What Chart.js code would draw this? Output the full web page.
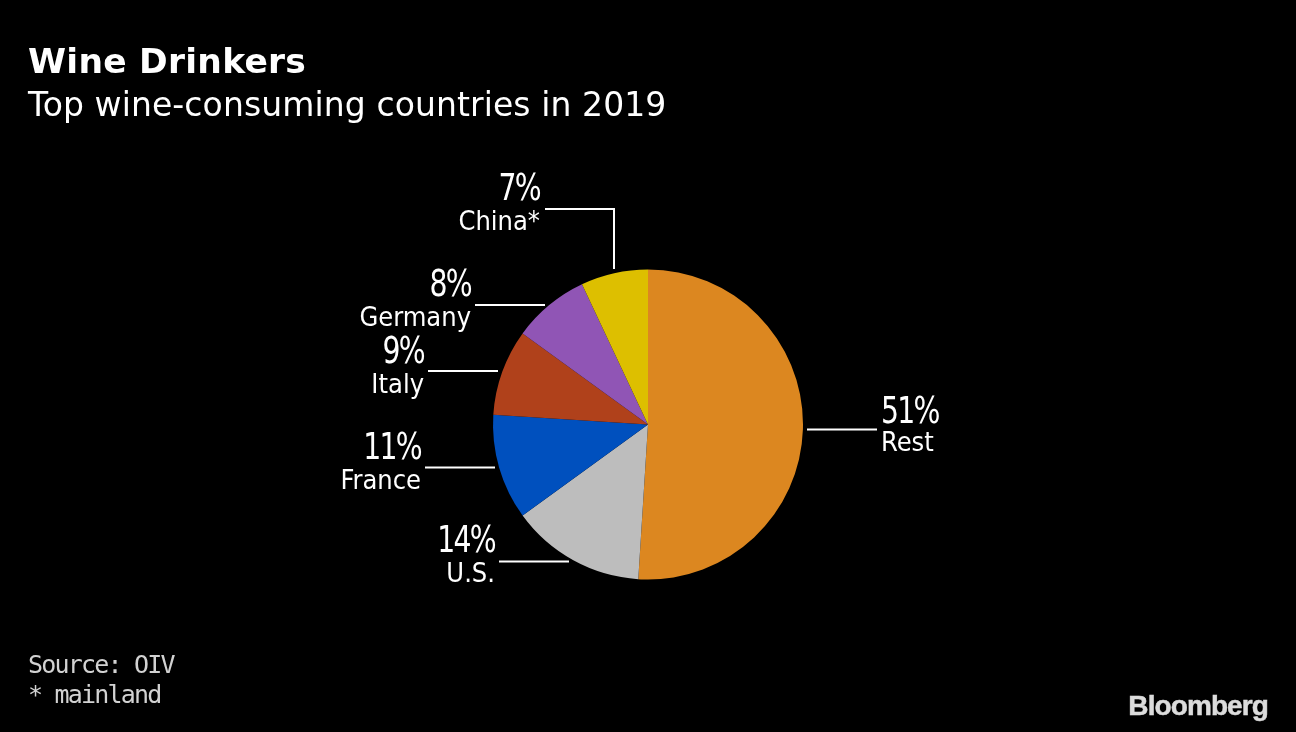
<!DOCTYPE html>
<html>
<head>
<meta charset="utf-8">
<script src="https://cdn.jsdelivr.net/npm/chart.js@4"></script>
<style>
html,body{margin:0;padding:0;background:#000;width:1296px;height:732px;overflow:hidden}
#wrap{position:absolute;left:0;top:0;width:1296px;height:732px}
.t{position:absolute;white-space:nowrap;color:#fff;line-height:1}
#title{left:28px;top:41px;font:bold 34.5px "DejaVu Sans";letter-spacing:.25px}
#sub{left:28px;top:85px;font:33px "DejaVu Sans";letter-spacing:.1px}
#src1,#src2{font:25px "DejaVu Sans Mono";letter-spacing:-1.8px;color:#d2d2d2;left:28px}
#src1{top:650px}
#src2{top:680px}
#logo{right:28px;top:690px;font:bold 28px "Liberation Sans";letter-spacing:-.9px;color:#dcdcdc;-webkit-text-stroke:.5px #dcdcdc}
</style>
</head>
<body>
<div id="wrap"><canvas id="c" width="1296" height="732"></canvas></div>
<div class="t" id="title">Wine Drinkers</div>
<div class="t" id="sub">Top wine-consuming countries in 2019</div>
<div class="t" id="src1">Source: OIV</div>
<div class="t" id="src2">* mainland</div>
<div class="t" id="logo">Bloomberg</div>
<script>
const categories = ["Rest", "U.S.", "France", "Italy", "Germany", "China*"];
const shares = [51, 14, 11, 9, 8, 7];
const sliceColors = ["#DC8720", "#BDBDBD", "#0050BE", "#B0411B", "#9055B5", "#DDBF00"];

// Leader geometry, relative to the pie centre: polyline points, label side and label anchor
const leaders = [
  {pts:[[159,5],[229,5]],               side:"left",  x:233,  pct:-2,   name:26},
  {pts:[[-79,137],[-149,137]],          side:"right", x:-153, pct:127,  name:157},
  {pts:[[-153,43],[-223,43]],           side:"right", x:-227, pct:34,   name:64},
  {pts:[[-150,-53.5],[-220,-53.5]],     side:"right", x:-224, pct:-62,  name:-32},
  {pts:[[-103,-119.5],[-173,-119.5]],   side:"right", x:-177, pct:-129, name:-99},
  {pts:[[-34,-155.5],[-34,-215.5],[-103,-215.5]], side:"right", x:-108, pct:-225,name:-195}
];
const pctScaleX = 0.85;

const labelPlugin = {
  id: "sliceLabels",
  afterDatasetsDraw(chart) {
    const ctx = chart.ctx;
    const arc = chart.getDatasetMeta(0).data[0];
    const cx = arc.x, cy = arc.y;
    ctx.save();
    ctx.strokeStyle = "#fff";
    ctx.lineWidth = 2;
    ctx.fillStyle = "#fff";
    ctx.textBaseline = "alphabetic";
    leaders.forEach((l, i) => {
      ctx.beginPath();
      l.pts.forEach((p, j) => j ? ctx.lineTo(cx + p[0], cy + p[1]) : ctx.moveTo(cx + p[0], cy + p[1]));
      ctx.stroke();
      ctx.textAlign = l.side;
      ctx.save();
      ctx.translate(cx + l.x, cy + l.pct);
      ctx.scale(pctScaleX, 1);
      ctx.font = '37px "DejaVu Sans Condensed"';
      ctx.letterSpacing = "-2px";
      ctx.fillText(shares[i] + "%", 0, 0);
      ctx.restore();
      ctx.font = '27px "DejaVu Sans Condensed"';
      ctx.letterSpacing = "0px";
      ctx.fillText(categories[i], cx + l.x, cy + l.name);
    });
    ctx.restore();
  }
};

new Chart(document.getElementById("c"), {
  type: "pie",
  data: {
    labels: categories,
    datasets: [{ data: shares, backgroundColor: sliceColors, borderWidth: 0 }]
  },
  options: {
    responsive: false,
    animation: false,
    layout: { padding: { top: 269.5, bottom: 152.5, left: 0, right: 0 } },
    plugins: { legend: { display: false }, tooltip: { enabled: false }, title: { display: false } }
  },
  plugins: [labelPlugin]
});
</script>
</body>
</html>
